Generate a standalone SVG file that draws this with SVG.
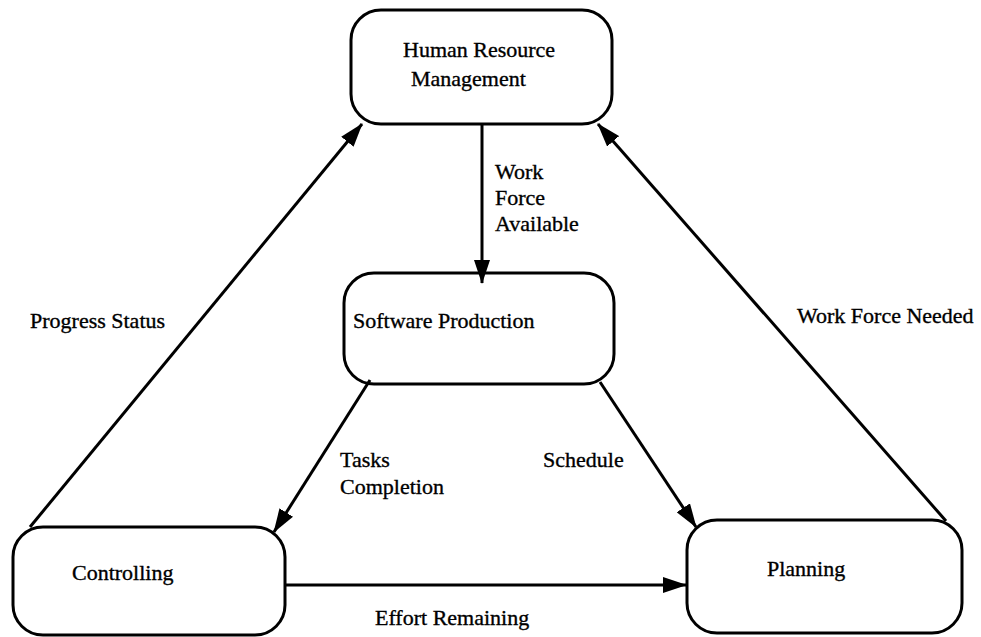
<svg xmlns="http://www.w3.org/2000/svg" width="981" height="637" viewBox="0 0 981 637">
<style>
.box{fill:#fff;stroke:#000;stroke-width:3}
.edge{stroke:#000;stroke-width:3;fill:none}
text{font-family:"Liberation Serif","Times New Roman",serif;font-size:22px;fill:#000;stroke:#000;stroke-width:0.35}
</style>
<defs>
<marker id="ah" markerUnits="userSpaceOnUse" markerWidth="24" markerHeight="16" refX="23" refY="8" orient="auto" viewBox="0 0 24 16">
<path d="M0,0 L24,8 L0,16 z" fill="#000"/>
</marker>
</defs>
<rect width="981" height="637" fill="#fff"/>
<g id="hrm"><rect class="box" x="351" y="10" width="261" height="114" rx="30"/><text x="403" y="57">Human Resource</text><text x="411" y="86">Management</text></g>
<g id="sp"><rect class="box" x="344" y="273" width="270" height="111" rx="30"/><text x="353" y="328">Software Production</text></g>
<g id="ctrl"><rect class="box" x="13" y="527" width="272" height="108" rx="30"/><text x="72" y="580">Controlling</text></g>
<g id="plan"><rect class="box" x="687" y="520" width="275" height="113" rx="30"/><text x="767" y="576">Planning</text></g>
<g id="connectors">
<line class="edge" x1="482" y1="124" x2="482" y2="283" marker-end="url(#ah)"/>
<line class="edge" x1="30" y1="527" x2="362" y2="124" marker-end="url(#ah)"/>
<line class="edge" x1="946" y1="521" x2="598" y2="124" marker-end="url(#ah)"/>
<line class="edge" x1="370" y1="380" x2="274" y2="532" marker-end="url(#ah)"/>
<line class="edge" x1="600" y1="382" x2="696" y2="527" marker-end="url(#ah)"/>
<line class="edge" x1="285" y1="585" x2="686" y2="585" marker-end="url(#ah)"/>
<text x="495" y="179">Work</text><text x="495" y="205">Force</text><text x="495" y="231">Available</text>
<text x="30" y="328">Progress Status</text>
<text x="797" y="323">Work Force Needed</text>
<text x="340" y="467">Tasks</text><text x="340" y="494">Completion</text>
<text x="543" y="467">Schedule</text>
<text x="375" y="625">Effort Remaining</text>
</g>
</svg>
